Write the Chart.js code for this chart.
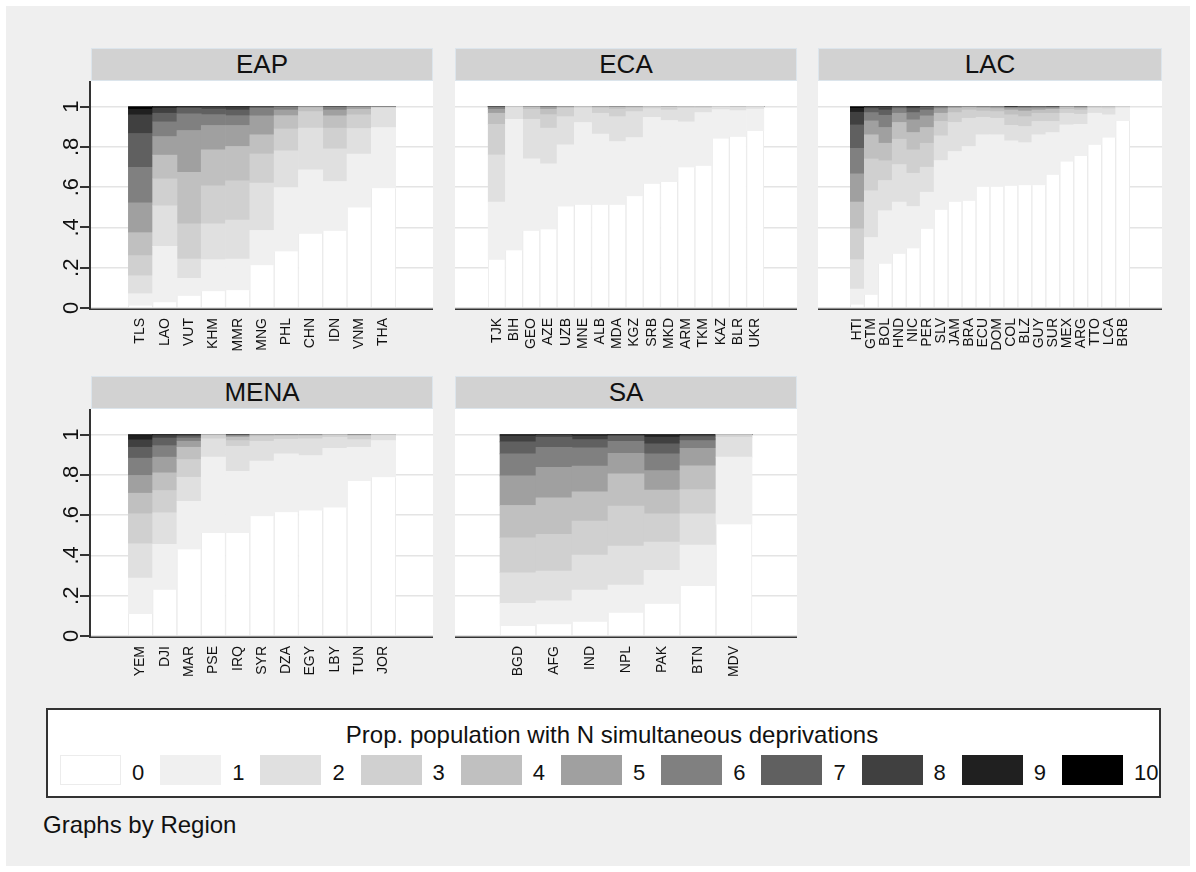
<!DOCTYPE html>
<html>
<head>
<meta charset="utf-8">
<script src="https://cdn.jsdelivr.net/npm/chart.js@4.4.1/dist/chart.umd.min.js"></script>
<style>
  body { margin: 0; background: #fff; font-family: "Liberation Sans", Arial, sans-serif; }
  #frame { position: absolute; left: 6px; top: 6px; width: 1184px; height: 860px; background: #efefef; }
  .header {
    position: absolute; box-sizing: border-box; height: 33px;
    background: #d2d2d2; border: 1px solid #dce5ec;
    text-align: center; font-size: 26px; line-height: 31px; color: #111;
  }
  canvas.panel { position: absolute; }
  #legend {
    position: absolute; left: 46px; top: 708px; width: 1115px; height: 90px;
    box-sizing: border-box; background: #fff; border: 2px solid #333;
  }
  #legendTitle {
    position: absolute; left: 12px; width: 1104px; top: 11px;
    text-align: center; font-size: 24px; line-height: 28px; color: #111;
  }
  .swatch { position: absolute; top: 45px; width: 61px; height: 30px; box-sizing: border-box; }
  .keylab { position: absolute; top: 48px; font-size: 22px; line-height: 30px; color: #111; }
  #note { position: absolute; left: 43px; top: 811px; font-size: 24px; line-height: 28px; color: #111; }
</style>
</head>
<body>
<div id="frame"></div>
<div id="panels"></div>
<div id="legend"><div id="legendTitle">Prop. population with N simultaneous deprivations</div></div>
<div id="note">Graphs by Region</div>
<script>
// deprivation levels and their fills
const levels = ['0', '1', '2', '3', '4', '5', '6', '7', '8', '9', '10'];
const levelColors = ['#ffffff', '#f0f0f0', '#e0e0e0', '#d0d0d0', '#c0c0c0', '#a0a0a0',
  '#808080', '#606060', '#404040', '#202020', '#000000'];
const yTickValues = [0, 0.2, 0.4, 0.6, 0.8, 1];
const yTickLabels = ['0', '.2', '.4', '.6', '.8', '1'];

// cumulative share with at most 0..9 deprivations (top of each band), per country
const eapCountries = ['TLS', 'LAO', 'VUT', 'KHM', 'MMR', 'MNG', 'PHL', 'CHN', 'IDN', 'VNM', 'THA'];
const eapCum = [
  [0.012, 0.071, 0.16, 0.26, 0.374, 0.522, 0.698, 0.866, 0.959, 0.987],
  [0.028, 0.306, 0.507, 0.641, 0.759, 0.851, 0.924, 0.967, 0.992, 0.998],
  [0.061, 0.147, 0.243, 0.418, 0.674, 0.881, 0.964, 0.992, 0.997, 0.999],
  [0.083, 0.24, 0.418, 0.607, 0.785, 0.906, 0.96, 0.988, 0.998, 1],
  [0.088, 0.243, 0.436, 0.631, 0.802, 0.906, 0.955, 0.983, 0.995, 0.999],
  [0.212, 0.385, 0.62, 0.765, 0.86, 0.954, 0.992, 0.998, 1, 1],
  [0.281, 0.598, 0.78, 0.889, 0.955, 0.983, 0.997, 1, 1, 1],
  [0.369, 0.686, 0.893, 0.975, 0.995, 0.999, 1, 1, 1, 1],
  [0.383, 0.628, 0.79, 0.893, 0.954, 0.983, 0.997, 0.999, 1, 1],
  [0.499, 0.764, 0.891, 0.959, 0.987, 0.997, 1, 1, 1, 1],
  [0.595, 0.896, 0.993, 0.996, 0.997, 0.998, 0.999, 1, 1, 1]
];

const ecaCountries = ['TJK', 'BIH', 'GEO', 'AZE', 'UZB', 'MNE', 'ALB', 'MDA', 'KGZ', 'SRB', 'MKD', 'ARM', 'TKM', 'KAZ', 'BLR', 'UKR'];
const ecaCum = [
  [0.24, 0.526, 0.76, 0.912, 0.967, 0.987, 0.997, 0.999, 1, 1],
  [0.286, 0.937, 0.995, 0.999, 1, 1, 1, 1, 1, 1],
  [0.383, 0.74, 0.937, 0.987, 0.997, 1, 1, 1, 1, 1],
  [0.39, 0.716, 0.893, 0.96, 0.987, 0.997, 1, 1, 1, 1],
  [0.504, 0.81, 0.95, 0.992, 0.997, 1, 1, 1, 1, 1],
  [0.512, 0.921, 0.993, 0.998, 1, 1, 1, 1, 1, 1],
  [0.512, 0.864, 0.967, 0.993, 0.998, 1, 1, 1, 1, 1],
  [0.512, 0.826, 0.95, 0.988, 0.997, 0.999, 1, 1, 1, 1],
  [0.555, 0.846, 0.975, 0.993, 0.998, 1, 1, 1, 1, 1],
  [0.617, 0.947, 0.99, 0.998, 1, 1, 1, 1, 1, 1],
  [0.626, 0.931, 0.983, 0.997, 0.999, 1, 1, 1, 1, 1],
  [0.698, 0.924, 0.992, 0.998, 1, 1, 1, 1, 1, 1],
  [0.706, 0.97, 0.992, 0.998, 1, 1, 1, 1, 1, 1],
  [0.841, 0.985, 0.997, 1, 1, 1, 1, 1, 1, 1],
  [0.85, 0.98, 0.995, 0.999, 1, 1, 1, 1, 1, 1],
  [0.879, 0.988, 0.998, 1, 1, 1, 1, 1, 1, 1]
];

const lacCountries = ['HTI', 'GTM', 'BOL', 'HND', 'NIC', 'PER', 'SLV', 'JAM', 'BRA', 'ECU', 'DOM', 'COL', 'BLZ', 'GUY', 'SUR', 'MEX', 'ARG', 'TTO', 'LCA', 'BRB'];
const lacCum = [
  [0.017, 0.094, 0.24, 0.393, 0.526, 0.666, 0.792, 0.909, 0.972, 0.992],
  [0.066, 0.35, 0.582, 0.74, 0.86, 0.929, 0.97, 0.99, 0.997, 0.999],
  [0.22, 0.483, 0.633, 0.731, 0.818, 0.896, 0.957, 0.983, 0.997, 0.999],
  [0.269, 0.526, 0.712, 0.838, 0.921, 0.967, 0.99, 0.998, 1, 1],
  [0.296, 0.504, 0.669, 0.785, 0.871, 0.934, 0.97, 0.99, 0.997, 1],
  [0.393, 0.575, 0.699, 0.818, 0.896, 0.954, 0.983, 0.997, 1, 1],
  [0.488, 0.732, 0.855, 0.926, 0.967, 0.99, 0.998, 1, 1, 1],
  [0.527, 0.777, 0.921, 0.97, 0.992, 0.998, 1, 1, 1, 1],
  [0.532, 0.802, 0.942, 0.983, 0.995, 0.999, 1, 1, 1, 1],
  [0.602, 0.86, 0.947, 0.978, 0.993, 0.998, 1, 1, 1, 1],
  [0.602, 0.86, 0.942, 0.975, 0.99, 0.998, 1, 1, 1, 1],
  [0.607, 0.83, 0.907, 0.959, 0.983, 0.993, 0.995, 0.997, 0.998, 0.999],
  [0.61, 0.821, 0.901, 0.95, 0.978, 0.992, 0.997, 1, 1, 1],
  [0.61, 0.86, 0.926, 0.967, 0.983, 0.993, 0.998, 1, 1, 1],
  [0.661, 0.871, 0.926, 0.967, 0.987, 0.993, 0.997, 0.999, 1, 1],
  [0.727, 0.909, 0.967, 0.987, 0.997, 1, 1, 1, 1, 1],
  [0.755, 0.912, 0.962, 0.983, 0.993, 0.998, 1, 1, 1, 1],
  [0.81, 0.967, 0.992, 0.998, 1, 1, 1, 1, 1, 1],
  [0.846, 0.959, 0.99, 0.998, 1, 1, 1, 1, 1, 1],
  [0.929, 0.993, 0.998, 1, 1, 1, 1, 1, 1, 1]
];

const menaCountries = ['YEM', 'DJI', 'MAR', 'PSE', 'IRQ', 'SYR', 'DZA', 'EGY', 'LBY', 'TUN', 'JOR'];
const menaCum = [
  [0.109, 0.288, 0.458, 0.607, 0.709, 0.797, 0.883, 0.937, 0.974, 0.995],
  [0.23, 0.455, 0.612, 0.722, 0.81, 0.888, 0.945, 0.983, 0.995, 0.999],
  [0.43, 0.669, 0.788, 0.876, 0.937, 0.967, 0.983, 0.993, 0.998, 1],
  [0.511, 0.888, 0.979, 0.995, 0.999, 1, 1, 1, 1, 1],
  [0.511, 0.818, 0.942, 0.97, 0.987, 0.993, 0.997, 0.999, 1, 1],
  [0.595, 0.868, 0.967, 0.99, 0.997, 1, 1, 1, 1, 1],
  [0.615, 0.904, 0.977, 0.993, 0.997, 0.999, 1, 1, 1, 1],
  [0.623, 0.896, 0.979, 0.993, 0.997, 0.999, 1, 1, 1, 1],
  [0.638, 0.932, 0.987, 0.997, 1, 1, 1, 1, 1, 1],
  [0.77, 0.937, 0.975, 0.993, 0.997, 0.999, 1, 1, 1, 1],
  [0.788, 0.97, 0.995, 0.999, 1, 1, 1, 1, 1, 1]
];

const saCountries = ['BGD', 'AFG', 'IND', 'NPL', 'PAK', 'BTN', 'MDV'];
const saCum = [
  [0.05, 0.162, 0.314, 0.488, 0.648, 0.795, 0.904, 0.964, 0.993, 0.998],
  [0.058, 0.174, 0.322, 0.504, 0.686, 0.838, 0.937, 0.987, 0.997, 0.999],
  [0.071, 0.228, 0.402, 0.57, 0.716, 0.843, 0.934, 0.975, 0.993, 0.998],
  [0.116, 0.253, 0.446, 0.645, 0.805, 0.907, 0.967, 0.992, 0.998, 1],
  [0.16, 0.326, 0.466, 0.607, 0.724, 0.821, 0.904, 0.954, 0.987, 0.998],
  [0.248, 0.451, 0.607, 0.727, 0.845, 0.932, 0.97, 0.99, 0.997, 0.999],
  [0.554, 0.888, 0.987, 0.997, 1, 1, 1, 1, 1, 1]
];

const FONT = '"Liberation Sans", Arial, sans-serif';
Chart.defaults.font.family = FONT;
Chart.defaults.color = '#111';

// plot boxes in page pixels (left of canvas, top of plot area, canvas width, y-axis width)
const panels = [
  { title: 'EAP', countries: eapCountries, cum: eapCum, left: 30, top: 81, width: 403, yw: 61 },
  { title: 'ECA', countries: ecaCountries, cum: ecaCum, left: 455, top: 81, width: 342, yw: 0 },
  { title: 'LAC', countries: lacCountries, cum: lacCum, left: 818, top: 81, width: 344, yw: 0 },
  { title: 'MENA', countries: menaCountries, cum: menaCum, left: 30, top: 409, width: 403, yw: 61 },
  { title: 'SA', countries: saCountries, cum: saCum, left: 455, top: 409, width: 342, yw: 0 }
];

// white plot region, then Stata-like axis lines (x line everywhere, y line + ticks on left column)
const plotFrame = {
  id: 'plotFrame',
  beforeDraw(chart) {
    const ctx = chart.ctx;
    const a = chart.chartArea;
    const y = chart.scales.y;
    ctx.save();
    ctx.fillStyle = '#fff';
    ctx.fillRect(a.left, a.top, a.right - a.left, a.bottom - a.top);
    ctx.fillStyle = '#333';
    ctx.fillRect(a.left, Math.round(a.bottom), a.right - a.left, 2);
    if (y.options.ticks.display) {
      ctx.fillRect(Math.round(a.left) - 2, a.top, 2, a.bottom - a.top + 2);
      y.ticks.forEach(t => {
        const py = Math.round(y.getPixelForValue(t.value));
        ctx.fillRect(Math.round(a.left) - 11, py - 1, 9, 2);
      });
    }
    ctx.restore();
  }
};

const holder = document.getElementById('panels');
panels.forEach(p => {
  const n = p.countries.length;
  const plotW = p.width - p.yw;
  // bars fill ~294px of the plot, outer gap about 24px each side
  const pad = n * (plotW / 294 - 1) / 2;
  const showY = p.yw > 0;

  const head = document.createElement('div');
  head.className = 'header';
  head.textContent = p.title;
  head.style.left = (p.left + p.yw) + 'px';
  head.style.top = (p.top - 33) + 'px';
  head.style.width = plotW + 'px';
  holder.appendChild(head);

  const cv = document.createElement('canvas');
  cv.className = 'panel';
  cv.width = p.width; cv.height = 274;
  cv.style.left = p.left + 'px';
  cv.style.top = p.top + 'px';
  holder.appendChild(cv);

  const datasets = levels.map((lv, k) => ({
    label: lv,
    data: p.cum.map((row, i) => ({ x: i, y: [k === 0 ? 0 : row[k - 1], k === 10 ? 1 : row[k]] })),
    backgroundColor: levelColors[k],
    borderColor: '#ebebeb',
    borderWidth: k === 0 ? { left: 1, right: 1, top: 0, bottom: 0 } : 0,
    grouped: false,
    barPercentage: 1,
    categoryPercentage: 1
  }));

  new Chart(cv.getContext('2d'), {
    type: 'bar',
    data: { datasets },
    plugins: [plotFrame],
    options: {
      responsive: false,
      animation: false,
      devicePixelRatio: 1,
      plugins: { legend: { display: false }, tooltip: { enabled: false } },
      scales: {
        x: {
          type: 'linear',
          bounds: 'data',
          min: -0.5 - pad,
          max: n - 0.5 + pad,
          afterBuildTicks: s => { s.ticks = p.countries.map((c, i) => ({ value: i })); },
          afterFit: s => { s.height = 47; s.paddingLeft = 0; s.paddingRight = 0; },
          ticks: {
            autoSkip: false, minRotation: 90, maxRotation: 90, padding: 10,
            font: { size: 14 }, color: '#111',
            callback: (v, i) => p.countries[i]
          },
          grid: { display: false, drawTicks: false },
          border: { display: false }
        },
        y: {
          min: 0,
          max: 1.127,
          afterBuildTicks: s => { s.ticks = yTickValues.map(v => ({ value: v })); },
          afterFit: s => { s.width = p.yw; s.paddingTop = 0; s.paddingBottom = 0; },
          ticks: {
            display: showY, minRotation: 90, maxRotation: 90, crossAlign: 'center', padding: 10,
            font: { size: 22 }, color: '#111',
            callback: (v, i) => yTickLabels[i]
          },
          grid: { color: '#e4e4e4', lineWidth: 1.5, drawTicks: false },
          border: { display: false }
        }
      }
    }
  });
});

// legend keys
const legend = document.getElementById('legend');
levels.forEach((lv, k) => {
  const sw = document.createElement('div');
  sw.className = 'swatch';
  sw.style.left = (12 + k * 100.2) + 'px';
  sw.style.background = levelColors[k];
  sw.style.border = '1px solid ' + (k === 0 ? '#ececec' : levelColors[k]);
  legend.appendChild(sw);
  const lab = document.createElement('div');
  lab.className = 'keylab';
  lab.style.left = (12 + k * 100.2 + 61 + 11) + 'px';
  lab.textContent = lv;
  legend.appendChild(lab);
});
</script>
</body>
</html>
